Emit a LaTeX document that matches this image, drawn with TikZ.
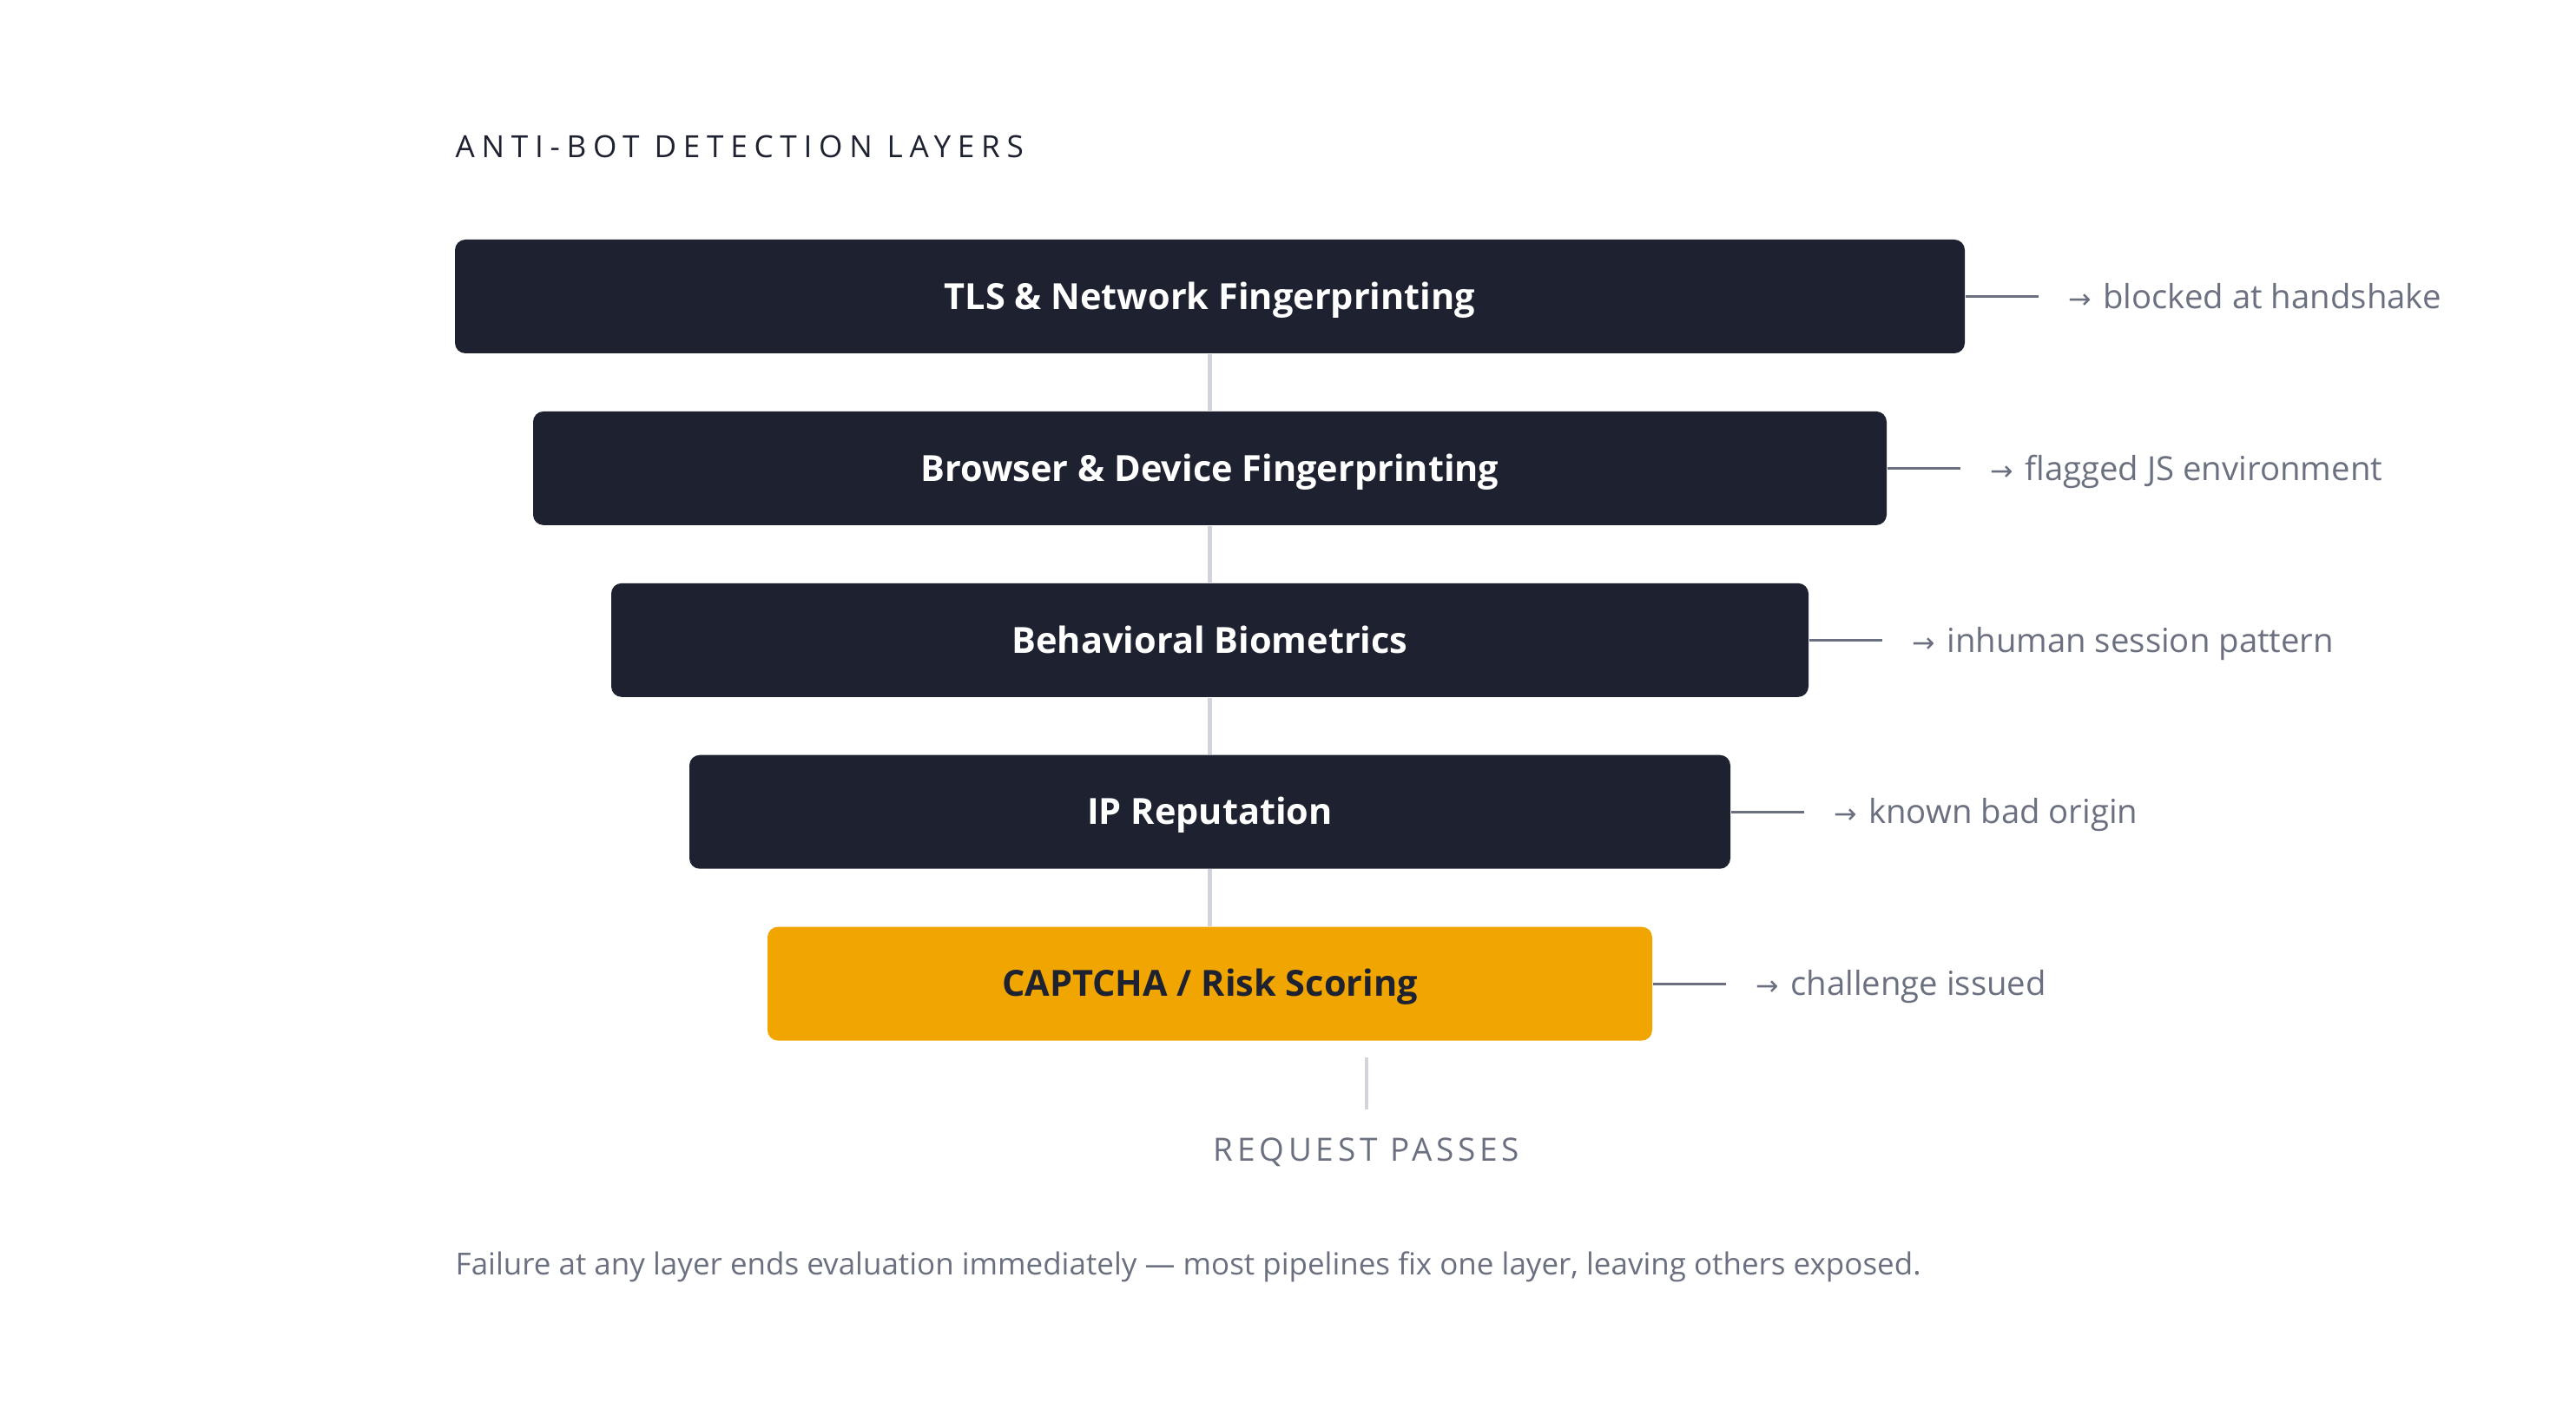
\documentclass[tikz,border=0pt]{standalone}
\usepackage{fontspec}
\setmainfont{Open Sans}
\newfontfamily\spacedfont[LetterSpace=22]{Open Sans}
\newfontfamily\passfont[LetterSpace=13]{Open Sans}
\newfontfamily\symfont{DejaVu Sans}
\usepackage{xcolor}
\usepackage{tikz}
\usetikzlibrary{arrows.meta,positioning,calc}

\definecolor{layerdark}{HTML}{1E2230}
\definecolor{captchaamber}{HTML}{F0A500}
\definecolor{notegrey}{HTML}{6B7080}
\definecolor{linkgrey}{HTML}{D1D4DA}

\newcommand{\arr}{{\symfont\fontsize{9}{9}\selectfont →}\hspace{0.35em}}

\begin{document}
\begin{tikzpicture}[
  layer/.style={rounded corners=0.12cm, minimum height=1.31cm, inner sep=0pt, text height=8.4pt, text depth=0pt, align=center, fill=layerdark, text=white, font=\fontsize{11.8}{14}\selectfont\bfseries},
  note/.style={inner sep=0pt, text height=7.8pt, text depth=0pt, text=notegrey, font=\fontsize{10.9}{13}\selectfont},
  link/.style={draw=linkgrey, line width=1.4pt},
  tick/.style={draw=notegrey, line width=0.8pt}
]
  \useasboundingbox (0,0) rectangle (29.67,-16.23);

  \node[anchor=base west, inner sep=0pt, text=layerdark, font=\spacedfont\fontsize{10}{12}\selectfont] (title) at (5.24,-1.82) {ANTI-BOT DETECTION LAYERS};

  \node[layer, minimum width=17.39cm] (tls) at (13.935,-3.415) {TLS \& Network Fingerprinting};
  \node[layer, minimum width=15.59cm, below=0.655cm of tls] (browser) {Browser \& Device Fingerprinting};
  \node[layer, minimum width=13.79cm, below=0.655cm of browser] (behav) {Behavioral Biometrics};
  \node[layer, minimum width=11.99cm, below=0.655cm of behav] (iprep) {IP Reputation};
  \node[layer, minimum width=10.19cm, below=0.655cm of iprep, fill=captchaamber, text=layerdark] (captcha) {CAPTCHA / Risk Scoring};

  \draw[link] (tls) -- (browser);
  \draw[link] (browser) -- (behav);
  \draw[link] (behav) -- (iprep);
  \draw[link] (iprep) -- (captcha);

  % outcome of each layer
  \coordinate[right=0.84cm of tls] (tlsend);
  \coordinate[right=0.84cm of browser] (browserend);
  \coordinate[right=0.84cm of behav] (behavend);
  \coordinate[right=0.84cm of iprep] (iprepend);
  \coordinate[right=0.84cm of captcha] (captchaend);
  \draw[tick] (tls) -- (tlsend);
  \draw[tick] (browser) -- (browserend);
  \draw[tick] (behav) -- (behavend);
  \draw[tick] (iprep) -- (iprepend);
  \draw[tick] (captcha) -- (captchaend);

  \node[note, right=1.18cm of tls] (tlsnote) {\arr blocked at handshake};
  \node[note, right=1.18cm of browser] (browsernote) {\arr flagged JS environment};
  \node[note, right=1.18cm of behav] (behavnote) {\arr inhuman session pattern};
  \node[note, right=1.18cm of iprep] (iprepnote) {\arr known bad origin};
  \node[note, right=1.18cm of captcha] (captchanote) {\arr challenge issued};

  \coordinate (passtop) at (15.74,-12.18);
  \coordinate (passbot) at (15.74,-12.78);
  \draw[link] (passtop) -- (passbot);
  \node[anchor=base, inner sep=0pt, text=notegrey, font=\passfont\fontsize{10.5}{12}\selectfont] (pass) at (15.74,-13.37) {REQUEST PASSES};

  \node[anchor=base west, inner sep=0pt, text=notegrey, font=\fontsize{9.95}{12}\selectfont] (footer) at (5.24,-14.68) {Failure at any layer ends evaluation immediately — most pipelines fix one layer, leaving others exposed.};
\end{tikzpicture}
\end{document}
